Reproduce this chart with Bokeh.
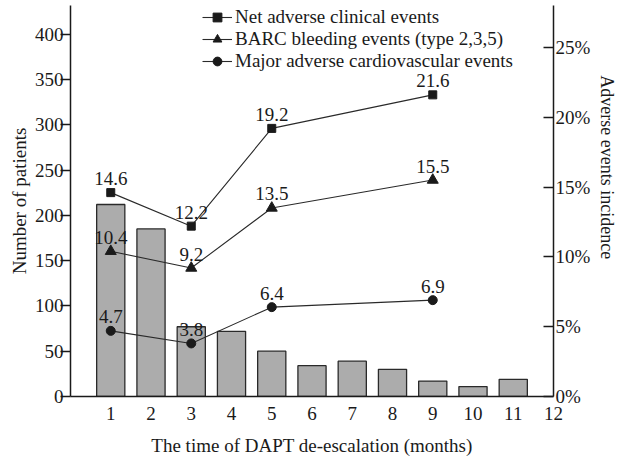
from bokeh.plotting import figure
from bokeh.models import (Range1d, LinearAxis, FixedTicker, Legend, LegendItem,
                          PrintfTickFormatter)
from bokeh.core.properties import value
from bokeh.embed import file_html
from bokeh.resources import INLINE

# ---- data ----
months = [1, 2, 3, 4, 5, 6, 7, 8, 9, 10, 11]
patients = [212, 185, 77, 72, 50, 34, 39, 30, 17, 11, 19]
event_months = [1, 3, 5, 9]
nace = [14.6, 12.2, 19.2, 21.6]
barc = [10.4, 9.2, 13.5, 15.5]
mace = [4.7, 3.8, 6.4, 6.9]
x_ticks = [1, 2, 3, 4, 5, 6, 7, 8, 9, 10, 11, 12]
left_ticks = [0, 50, 100, 150, 200, 250, 300, 350, 400]
right_ticks = [0, 5, 10, 15, 20, 25]
series_names = ["Net adverse clinical events",
                "BARC bleeding events (type 2,3,5)",
                "Major adverse cardiovascular events"]

FONT = "Liberation Serif"
FS = "19px"
DARK = "#1a1a1a"

p = figure(width=621, height=458, x_range=Range1d(0, 12), y_range=Range1d(0, 431.7),
           output_backend="svg", toolbar_location=None,
           min_border_left=70, min_border_right=68, min_border_top=5, min_border_bottom=61)
p.extra_y_ranges = {"pct": Range1d(0, 28.0)}
p.outline_line_color = None
p.xgrid.grid_line_color = None
p.ygrid.grid_line_color = None


def style_axis(ax):
    ax.minor_tick_line_color = None
    ax.axis_line_width = 1.5
    ax.axis_line_color = DARK
    ax.major_tick_line_width = 1.5
    ax.major_tick_line_color = DARK
    ax.major_label_text_font = FONT
    ax.major_label_text_font_size = FS
    ax.major_label_text_color = DARK
    ax.axis_label_text_font = FONT
    ax.axis_label_text_font_size = FS
    ax.axis_label_text_font_style = "normal"
    ax.axis_label_text_color = DARK


# x axis
xa = p.xaxis[0]
style_axis(xa)
xa.ticker = FixedTicker(ticks=x_ticks)
xa.major_tick_out = 0
xa.major_tick_in = 0
xa.major_label_standoff = 10
xa.axis_label = "The time of DAPT de-escalation (months)"
xa.axis_label_standoff = 12

# left axis
ya = p.yaxis[0]
style_axis(ya)
ya.ticker = FixedTicker(ticks=left_ticks)
ya.major_tick_out = 10
ya.major_tick_in = 0
ya.major_label_standoff = -3
ya.axis_label = "Number of patients"
ya.axis_label_standoff = 2

# right axis
ra = LinearAxis(y_range_name="pct", ticker=FixedTicker(ticks=right_ticks),
                formatter=PrintfTickFormatter(format="%d%%"))
style_axis(ra)
ra.major_tick_in = 10
ra.major_tick_out = 0
ra.major_label_standoff = 2
ra.axis_label = "Adverse events incidence" + "\u00a0" * 15
ra.axis_label_text_font_size = "18px"
ra.axis_label_standoff = 4
p.add_layout(ra, "right")

# bars
p.vbar(x=months, top=patients, width=0.7, bottom=0,
       fill_color="#acacac", line_color="#2a2a2a", line_width=1.3)

# lines
series = [nace, barc, mace]
markers = ["square", "triangle", "circle"]
sizes = [8, 11, 9]
items = []
for name, vals, mk, sz in zip(series_names, series, markers, sizes):
    lr = p.line(event_months, vals, y_range_name="pct", line_color="#2a2a2a", line_width=1.1)
    sr = p.scatter(event_months, vals, y_range_name="pct", marker=mk, size=sz,
                   fill_color=DARK, line_color=DARK)
    p.text(x=event_months, y=vals, text=[str(v) for v in vals], y_range_name="pct",
           text_align="center", text_baseline="alphabetic", y_offset=-14,
           text_font=value(FONT), text_font_size=FS, text_color=DARK)
    items.append(LegendItem(label=name, renderers=[lr, sr]))

legend = Legend(items=items, location=(132, 324), border_line_color=None,
                background_fill_alpha=0, label_text_font=FONT, label_text_font_size=FS,
                label_text_color=DARK, glyph_width=30, glyph_height=22, label_height=22,
                spacing=0, padding=0, margin=0, label_standoff=3)
p.add_layout(legend)

open("out.html", "w").write(file_html(p, INLINE))
